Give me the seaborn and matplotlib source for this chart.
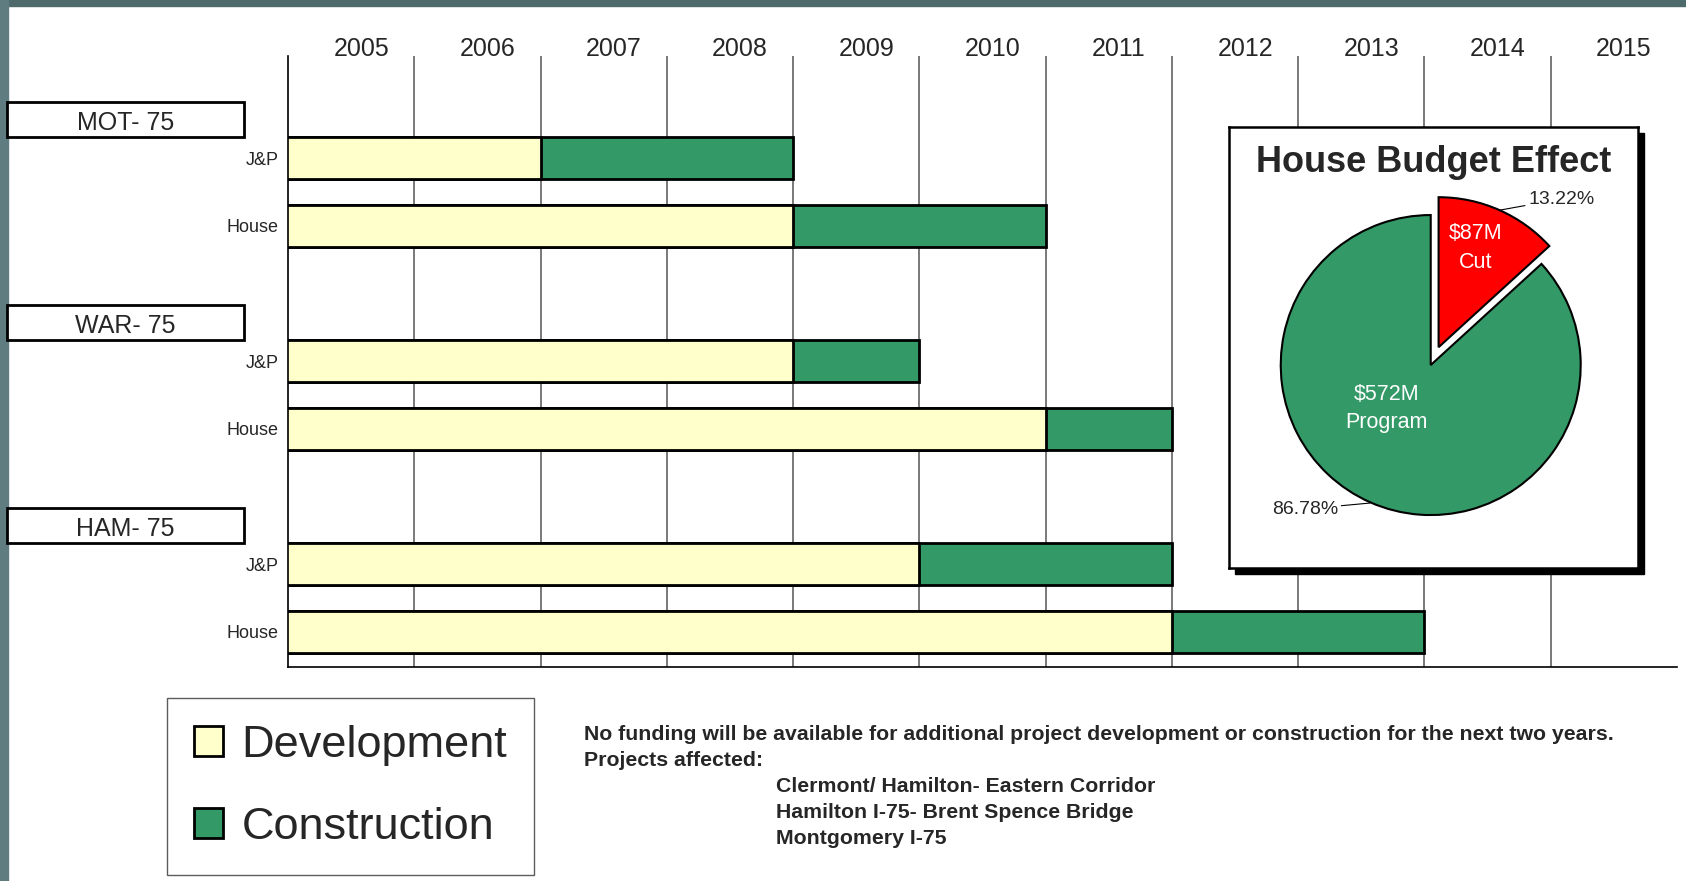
import matplotlib
matplotlib.use("Agg")
import matplotlib.pyplot as plt
import matplotlib.transforms as mtransforms
from matplotlib.patches import Rectangle, Patch
import pandas as pd
import seaborn as sns

# ---- data ----
groups = ["MOT- 75", "WAR- 75", "HAM- 75"]
budgets = ["J&P", "House"]
# end year of development / construction for each (group, budget) row
dev_end = [2007, 2009, 2009, 2011, 2010, 2012]
con_end = [2009, 2011, 2010, 2012, 2012, 2014]
years = list(range(2005, 2016))

pie_amounts = ["$87M\nCut", "$572M\nProgram"]
pie_share = [13.22, 86.78]

note_lines = [
    "No funding will be available for additional project development or construction for the next two years.",
    "Projects affected:",
]
projects = [
    "Clermont/ Hamilton- Eastern Corridor",
    "Hamilton I-75- Brent Spence Bridge",
    "Montgomery I-75",
]

DEV_COLOR = "#FFFFCC"
CON_COLOR = "#339966"
CUT_COLOR = "#FF0000"

W, H = 1686, 881

sns.set_theme(style="white")
plt.rcParams["font.family"] = ["Liberation Sans", "DejaVu Sans"]

rows = [f"{g} {b}" for g in groups for b in budgets]
df = pd.DataFrame({"row": rows, "dev": dev_end, "con": con_end})

# one empty slot between groups
order = []
for i, g in enumerate(groups):
    if i:
        order.append(" " * i)
    order += [f"{g} {b}" for b in budgets]

fig = plt.figure(figsize=(W / 100, H / 100), dpi=100)

# slide border (top and left strips)
fig.patch.set_facecolor("white")
fig.add_artist(Rectangle((0, 1 - 6 / H), 1, 6 / H, transform=fig.transFigure,
                         color="#4e6a6b", zorder=-5))
fig.add_artist(Rectangle((0, 0), 8 / W, 1, transform=fig.transFigure,
                         color="#5f7d80", zorder=-5))

ax = fig.add_axes([288 / W, 1 - 667 / H, 1389 / W, 611 / H])

# total (construction) first, development drawn on top of it
sns.barplot(data=df, y="row", x="con", order=order, orient="h", color=CON_COLOR,
            saturation=1, edgecolor="black", linewidth=2, width=0.63,
            errorbar=None, ax=ax)
sns.barplot(data=df, y="row", x="dev", order=order, orient="h", color=DEV_COLOR,
            saturation=1, edgecolor="black", linewidth=2, width=0.63,
            errorbar=None, ax=ax)

ax.set_xlim(years[0], years[-1] + 1)
ax.set_ylim(len(order) - 0.48, -1.51)
ax.set_xlabel("")
ax.set_ylabel("")

ax.set_xticks([])
ax.set_xticks(years[1:], minor=True)
ax.grid(which="minor", axis="x", color="#555555", linewidth=1.1)
ax.set_axisbelow(True)
ax.tick_params(which="both", length=0)

ax.set_yticks(range(len(order)))
ax.set_yticklabels([r.split(" ")[-1] if r.strip() else "" for r in order])
ax.tick_params(axis="y", pad=7, labelsize=13)

for side in ["top", "right"]:
    ax.spines[side].set_visible(False)
for side in ["left", "bottom"]:
    ax.spines[side].set_color("black")
    ax.spines[side].set_linewidth(1.2)

# year labels above the chart
ytrans = mtransforms.blended_transform_factory(ax.transData, ax.transAxes)
for y in years:
    ax.text(y + 0.58, 1.0, str(y), transform=ytrans, ha="center",
            va="baseline", fontsize=18)

# group name boxes on the left
btrans = mtransforms.blended_transform_factory(fig.transFigure, ax.transData)
for g in groups:
    slot = order.index(f"{g} J&P")
    bottom = slot - 0.315
    fig.add_artist(Rectangle((7 / W, bottom - 0.52), 237 / W, 0.52,
                             transform=btrans, facecolor="white",
                             edgecolor="black", linewidth=2))
    fig.text(125.5 / W, bottom - 0.2, g, transform=btrans, ha="center",
             va="center", fontsize=18)

# ---- pie inset ----
fig.add_artist(Rectangle(((1229 + 6) / W, 1 - (568 + 6) / H), 409 / W, 441 / H,
                         transform=fig.transFigure, color="black", zorder=1.5))
pax = fig.add_axes([1229 / W, 1 - 568 / H, 409 / W, 441 / H], zorder=2)
pax.pie(pie_share, colors=[CUT_COLOR, CON_COLOR], explode=[0.13, 0],
        startangle=90, counterclock=False,
        wedgeprops=dict(edgecolor="black", linewidth=1.5))
pax.set_aspect("auto")
pax.set_xlim(-1.345, 1.382)
pax.set_ylim(-1.353, 1.587)
pax.set_frame_on(True)
pax.set_facecolor("white")
for sp in pax.spines.values():
    sp.set_visible(True)
    sp.set_color("black")
    sp.set_linewidth(1.8)

pax.text(0.5, 0.898, "House Budget Effect", transform=pax.transAxes,
         ha="center", va="baseline", fontsize=26, fontweight="bold")
pax.text(0.30, 0.783, pie_amounts[0], color="white", ha="center", va="center",
         fontsize=15.5, linespacing=1.5)
pax.text(-0.295, -0.29, pie_amounts[1], color="white", ha="center", va="center",
         fontsize=15.5, linespacing=1.45)
line = dict(arrowstyle="-", color="black", lw=0.8, shrinkA=0, shrinkB=0)
pax.annotate(f"{pie_share[0]:.2f}%", xy=(0.462, 1.033), xytext=(0.65, 1.107),
             ha="left", va="center", fontsize=14, arrowprops=line)
pax.annotate(f"{pie_share[1]:.2f}%", xy=(-0.405, -0.92), xytext=(-0.618, -0.96),
             ha="right", va="center", fontsize=14, arrowprops=line)

# ---- legend ----
handles = [Patch(facecolor=DEV_COLOR, edgecolor="black", linewidth=2, label="Development"),
           Patch(facecolor=CON_COLOR, edgecolor="black", linewidth=2, label="Construction")]
leg = fig.legend(handles=handles, loc="upper left",
                 bbox_to_anchor=(167 / W, 1 - 698 / H), borderaxespad=0,
                 fontsize=32.5, frameon=True, fancybox=False, edgecolor="#333333",
                 borderpad=0.6, labelspacing=0.9, handlelength=0.65,
                 handleheight=0.65, handletextpad=0.4)
leg.get_frame().set_linewidth(1.0)

# ---- note text ----
for i, txt in enumerate(note_lines + projects):
    x = 584 if i < len(note_lines) else 776
    fig.text(x / W, 1 - (735 + 26 * i) / H, txt, ha="left", va="center",
             fontsize=15.3, fontweight="bold")

fig.savefig("out.png", dpi=100)
